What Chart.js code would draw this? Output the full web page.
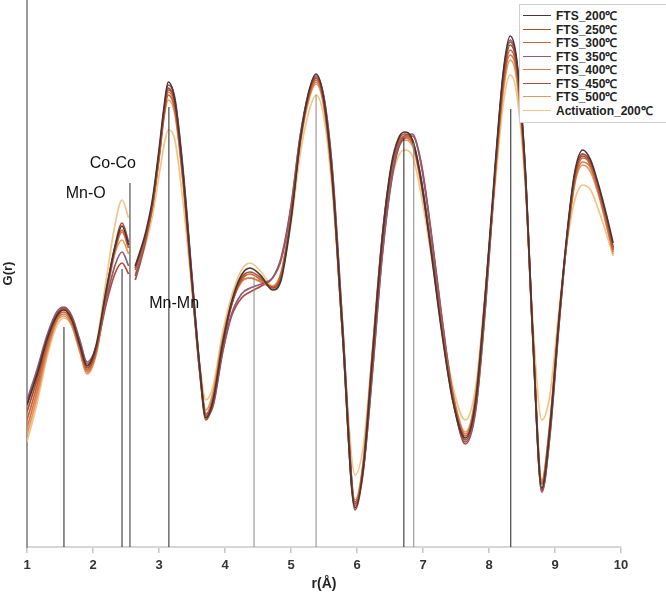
<!DOCTYPE html>
<html lang="en">
<head>
    <meta charset="UTF-8">
    <title>G(r) - FTS series</title>
    <!-- Chart.js -->
    <script src="https://cdn.jsdelivr.net/npm/chart.js"></script>
    <style>
        body { margin: 0; background: #fff; font-family: "Liberation Sans", Arial, sans-serif; }
        .wrap { position: relative; width: 666px; height: 596px; }
        #legend {
            position: absolute; left: 519px; top: 4px; width: 146px;
            border: 1px solid #cfcfcf; background: #fff; padding: 4px 0 5px 0;
        }
        .leg-row { display: flex; align-items: center; height: 13.5px; font-weight: bold; font-size: 12px; color: #222; white-space: nowrap; }
        .leg-line { width: 28px; height: 0; border-top: 1.5px solid; margin: 0 5px 0 3px; }
        .note { position: absolute; font-size: 16px; color: #111; transform: translate(-50%, -50%); white-space: nowrap; }
    </style>
</head>
<body>
<div class="wrap">
    <canvas id="grChart" width="666" height="596"></canvas>
    <div id="legend"></div>
</div>

<script>
    // r values (Å), shared by all series; null in a series = break in the curve
    const rValues = [
        1.0, 1.15, 1.3, 1.45, 1.56, 1.68, 1.8, 1.91, 2.05, 2.2, 2.33, 2.44, 2.54,
        2.59, 2.64, 2.72, 2.8, 2.9, 3.0, 3.08, 3.14, 3.24, 3.36, 3.5, 3.62, 3.71, 3.82, 3.96,
        4.1, 4.25, 4.38, 4.55, 4.72, 4.85, 5.0, 5.14, 5.27, 5.38, 5.5, 5.63, 5.78,
        5.97, 6.1, 6.23, 6.38, 6.52, 6.63, 6.72, 6.84, 6.97, 7.12, 7.28, 7.45, 7.64, 7.8, 7.95,
        8.1, 8.22, 8.32, 8.42, 8.55, 8.66, 8.8, 8.92, 9.06, 9.18, 9.3, 9.42, 9.54, 9.66, 9.78, 9.88
    ];

    const seriesNames = ['FTS_200℃', 'FTS_250℃', 'FTS_300℃', 'FTS_350℃', 'FTS_400℃', 'FTS_450℃', 'FTS_500℃', 'Activation_200℃'];
    const seriesColors = ['#4a3535', '#a8502e', '#cc6338', '#8e5a78', '#d9784a', '#b24a3c', '#e59a5c', '#f1c585'];

    const fts200 = [
        4.5, 7.5, 11, 13.4, 14, 13, 10.5, 8.4, 10.5, 16, 20.2, 22.4, 20.5,
        null, 18.4, 20, 21.8, 25, 30, 34.5, 36.8, 35, 28, 17, 8, 3.2, 5, 10.5,
        14.8, 17.5, 18.2, 17.4, 16, 17, 23, 31, 35.8, 37.6, 35, 27, 12,
        -5.8, -1.5, 9, 21, 28.5, 31.2, 31.8, 31, 27, 20, 12, 5, 1.2, 5, 16,
        29, 38, 41.4, 39, 28, 12, -3.8, 2, 13, 21.5, 27.8, 30, 29, 26.5, 23.5, 20.7
    ];
    const fts250 = [
        3.8, 7, 10.8, 13.5, 14.2, 13.2, 10.6, 8.2, 10.2, 15.8, 20.3, 22.7, 20.8,
        null, 18.2, 19.8, 21.5, 24.6, 29.6, 34, 36.2, 34.6, 27.6, 16.6, 7.6, 3, 4.8, 10.2,
        14.5, 17.2, 17.8, 17.2, 16.2, 17.3, 23.2, 31, 35.6, 37.2, 34.8, 26.8, 11.8,
        -6, -1.8, 8.6, 20.6, 28, 31, 31.6, 31, 27.2, 20.3, 12.2, 5, 1, 4.6, 15.5,
        28.5, 37.2, 40.5, 38.4, 27.6, 11.6, -4, 1.8, 12.8, 21.2, 27.4, 29.6, 28.8, 26.3, 23.2, 20.3
    ];
    const fts300 = [
        3, 6.4, 10.4, 13.2, 13.8, 12.8, 10.2, 8, 10, 15.6, 20, 22, 20.2,
        null, 18, 19.5, 21.4, 24.4, 29.2, 33.6, 35.5, 34, 27.2, 16.4, 7.6, 3.4, 5.2, 10.6,
        14.6, 17, 17.6, 17, 16.3, 17.6, 23.4, 31, 35.4, 37, 34.6, 26.6, 11.6,
        -5.6, -1.2, 9.2, 21, 28.2, 30.8, 31.4, 30.8, 27, 20.4, 12.6, 5.4, 1.4, 5.2, 15.8,
        28.2, 36.8, 40, 38, 27.4, 11.8, -3.4, 2.2, 13, 21, 27, 29.2, 28.6, 26, 22.8, 20
    ];
    const fts350 = [
        5, 8, 11.4, 13.8, 14.3, 13.4, 11, 8.8, 10.4, 15, 18.4, 19.8, 18.4,
        null, 17.4, 19.2, 21.2, 24.6, 29.6, 34.2, 36.5, 35.2, 28.4, 17.4, 8.2, 3.6, 4.6, 9.8,
        13.6, 15.6, 16.2, 16.6, 17.2, 19, 24.2, 31.4, 35.8, 37.4, 35.2, 27.6, 12.6,
        -5.4, -1.8, 7.6, 19.4, 27, 30.4, 31.4, 31.6, 28.6, 21.8, 13.4, 5.4, 0.8, 4.2, 14.8,
        28.6, 37.8, 41, 38.8, 28, 12.2, -4.2, 1.4, 12.6, 21.2, 27.6, 29.6, 28.6, 26, 23, 20.2
    ];
    const fts400 = [
        2.2, 5.8, 10, 13, 13.6, 12.6, 10, 7.8, 9.8, 15.6, 19.8, 21.8, 20.2,
        null, 18.2, 19.6, 21.4, 24.4, 29.4, 33.8, 35.8, 34.4, 27.6, 16.8, 7.8, 3.6, 5.4, 10.8,
        14.6, 16.8, 17.2, 16.8, 16.2, 17.6, 23.4, 30.8, 35.2, 36.8, 34.4, 26.6, 11.6,
        -5.4, -1, 9.4, 21.2, 28.2, 30.6, 31.2, 30.6, 26.8, 20.4, 12.8, 5.6, 1.6, 5.4, 16,
        28, 36.6, 39.5, 37.6, 27.2, 12, -3.2, 2.4, 13.2, 21, 26.8, 28.8, 28.2, 25.8, 22.6, 19.8
    ];
    const fts450 = [
        4.6, 7.8, 11.2, 13.6, 14.1, 13.2, 10.8, 8.6, 10.2, 14.6, 17.6, 18.7, 17.6,
        null, 17, 18.8, 21, 24.4, 29.4, 34, 36, 34.8, 28, 17.2, 8, 3.4, 4.4, 9.6,
        13.4, 15.2, 15.8, 16.4, 17.2, 19.2, 24.4, 31.4, 35.6, 37.2, 35.2, 27.8, 12.8,
        -5.2, -1.6, 7.4, 19.2, 26.8, 30.2, 31.2, 31.4, 28.8, 22, 13.6, 5.6, 0.6, 4, 14.6,
        28.4, 37.6, 40.8, 38.6, 27.8, 12, -4.2, 1.2, 12.4, 21, 27.4, 29.4, 28.4, 25.8, 22.8, 20
    ];
    const fts500 = [
        1.5, 5.2, 9.6, 12.8, 13.4, 12.4, 9.8, 7.6, 9.6, 15.4, 19.6, 21, 19.6,
        null, 18.4, 19.8, 21.4, 24.2, 29, 33.4, 35, 33.6, 27, 16.6, 8, 4, 5.8, 11,
        14.8, 17, 17.2, 16.8, 16.4, 17.8, 23.4, 30.6, 35, 36.6, 34.2, 26.4, 11.8,
        -5, -0.8, 9.6, 21.2, 28, 30.4, 31, 30.4, 26.6, 20.4, 13, 5.8, 1.8, 5.6, 16,
        27.8, 36, 39, 37, 27, 12.2, -3, 2.6, 13.2, 20.8, 26.6, 28.5, 27.8, 25.5, 22.4, 19.6
    ];
    const activation200 = [
        0.8, 4.6, 9.2, 12.4, 13.2, 12.4, 10, 8, 10.6, 17, 22.4, 25, 23.2,
        null, 17.6, 19, 20.6, 23.4, 27.4, 30.6, 32, 31, 25, 16, 8.4, 5, 6.4, 11.6,
        15.4, 18, 18.7, 17.8, 16.4, 17.4, 22.6, 29.6, 33.8, 35.5, 33.2, 25.6, 12,
        -2.5, 0.6, 9.6, 20.2, 26.8, 29.4, 30, 29.4, 25.6, 19.6, 12.6, 6.4, 3, 6.4, 16.4,
        27, 34.8, 37.5, 35.6, 26.4, 13.2, 3, 5.4, 14, 20.6, 25, 26.5, 26, 24, 21.6, 19.4
    ];
    const seriesValues = [fts200, fts250, fts300, fts350, fts400, fts450, fts500, activation200];

    // bond-distance marker lines: position, top value, colour
    const refR = [1.56, 2.44, 2.56, 3.15, 4.44, 5.38, 6.71, 6.86, 8.33];
    const refTop = [12.3, 18.1, 26.7, 34.3, 17.3, 35.5, 31.2, 30.7, 34.1];
    const refColors = ['#222', '#222', '#333', '#222', '#8a8a8a', '#8a8a8a', '#222', '#8a8a8a', '#222'];

    // text labels
    const noteText = ['Mn-O', 'Co-Co', 'Mn-Mn'];
    const noteR = [1.89, 2.30, 3.23];
    const noteG = [25.7, 28.7, 14.7];

    const xTicks = [1, 2, 3, 4, 5, 6, 7, 8, 9, 10];
    const yMin = -9.7, yMax = 45;

    const fontFamily = '"Liberation Sans", Arial, sans-serif';

    const datasets = [];
    refR.forEach((r, i) => {
        datasets.push({
            label: 'ref' + i,
            data: [{x: r, y: yMin}, {x: r, y: refTop[i]}],
            borderColor: refColors[i],
            borderWidth: 1,
            pointRadius: 0
        });
    });
    seriesNames.forEach((name, i) => {
        datasets.push({
            label: name,
            data: rValues.map((r, j) => ({x: r, y: seriesValues[i][j]})),
            borderColor: seriesColors[i],
            borderWidth: 1.7,
            pointRadius: 0,
            cubicInterpolationMode: 'monotone',
            spanGaps: false
        });
    });

    const chart = new Chart(document.getElementById('grChart').getContext('2d'), {
        type: 'line',
        data: { datasets: datasets },
        options: {
            responsive: false,
            animation: false,
            devicePixelRatio: 1,
            layout: { padding: { top: 0, right: 45, bottom: 0, left: 0 } },
            plugins: { legend: { display: false }, tooltip: { enabled: false } },
            scales: {
                x: {
                    type: 'linear', min: 1, max: 10,
                    afterBuildTicks: s => { s.ticks = xTicks.map(v => ({value: v})); },
                    ticks: { color: '#333', padding: 5, font: { family: fontFamily, size: 13, weight: 'bold' } },
                    grid: { drawOnChartArea: false, drawTicks: true, tickLength: 6, color: '#c4c4c4', lineWidth: 1.5 },
                    border: { color: '#d6d6d6', width: 2 },
                    title: { display: true, text: 'r(Å)', color: '#222', padding: { top: 0, bottom: 3 },
                             font: { family: fontFamily, size: 14, weight: 'bold' } },
                    afterFit: s => { s.height = 49; }
                },
                y: {
                    min: yMin, max: yMax,
                    ticks: { display: false },
                    grid: { display: false },
                    border: { color: '#9a9a9a', width: 2 },
                    title: { display: true, text: 'G(r)', color: '#222', padding: { top: 1, bottom: 0 },
                             font: { family: fontFamily, size: 13, weight: 'bold' } },
                    afterFit: s => { s.width = 27; }
                }
            }
        }
    });

    // legend box
    const legend = document.getElementById('legend');
    seriesNames.forEach((name, i) => {
        const row = document.createElement('div');
        row.className = 'leg-row';
        row.innerHTML = '<span class="leg-line" style="border-color:' + seriesColors[i] + '"></span>' + name;
        legend.appendChild(row);
    });

    // bond labels placed through the scales
    const wrap = document.querySelector('.wrap');
    noteText.forEach((t, i) => {
        const el = document.createElement('div');
        el.className = 'note';
        el.textContent = t;
        el.style.left = chart.scales.x.getPixelForValue(noteR[i]) + 'px';
        el.style.top = chart.scales.y.getPixelForValue(noteG[i]) + 'px';
        wrap.appendChild(el);
    });
</script>
</body>
</html>
